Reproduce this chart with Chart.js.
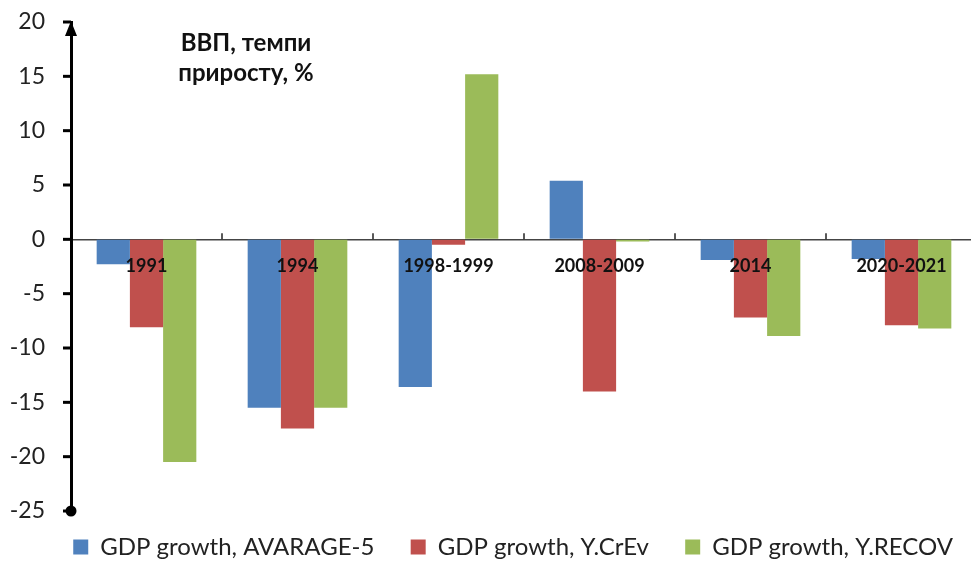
<!DOCTYPE html>
<html>
<head>
<meta charset="utf-8">
<script src="https://cdn.jsdelivr.net/npm/chart.js@4.4.1/dist/chart.umd.min.js"></script>
<style>
  html, body { margin: 0; padding: 0; background: #fff; overflow: hidden; }
  #wrap { width: 977px; height: 563px; }
</style>
</head>
<body>
<div id="wrap"><canvas id="chart"></canvas></div>
<script>
const periods = ['1991', '1994', '1998-1999', '2008-2009', '2014', '2020-2021'];
const avarage5 = [-2.3, -15.5, -13.6, 5.4, -1.9, -1.8];
const yCrEv = [-8.1, -17.4, -0.5, -14.0, -7.2, -7.9];
const yRecov = [-20.5, -15.5, 15.2, -0.2, -8.9, -8.2];
const seriesNames = ['GDP growth, AVARAGE-5', 'GDP growth, Y.CrEv', 'GDP growth, Y.RECOV'];
const noteLines = ['ВВП, темпи', 'приросту, %'];

const FONT = "Lato, 'Open Sans', sans-serif";

// axis arrow, end dot, tick marks and the note
const decor = {
  id: 'decor',
  afterDraw(chart) {
    const ctx = chart.ctx;
    const y = chart.scales.y, x = chart.scales.x;
    const ax = chart.chartArea.left;
    ctx.save();
    // short y tick marks (the long transparent ones only push the labels out)
    ctx.strokeStyle = '#000';
    ctx.lineWidth = 3;
    y.ticks.forEach((t) => {
      const py = y.getPixelForValue(t.value);
      ctx.beginPath();
      ctx.moveTo(ax - 8, py);
      ctx.lineTo(ax, py);
      ctx.stroke();
    });
    ctx.fillStyle = '#000';
    // arrow head
    ctx.beginPath();
    ctx.moveTo(ax, y.top - 1);
    ctx.lineTo(ax - 6, y.top + 14);
    ctx.lineTo(ax + 6, y.top + 14);
    ctx.closePath();
    ctx.fill();
    // end dot
    ctx.beginPath();
    ctx.arc(ax, y.bottom, 5.5, 0, Math.PI * 2);
    ctx.fill();
    // category boundary ticks on the zero line
    const zy = y.getPixelForValue(0);
    ctx.strokeStyle = '#222';
    ctx.lineWidth = 1.5;
    for (let i = 1; i < periods.length; i++) {
      const px = (x.getPixelForValue(i - 1) + x.getPixelForValue(i)) / 2;
      ctx.beginPath();
      ctx.moveTo(px, zy);
      ctx.lineTo(px, zy - 6);
      ctx.stroke();
    }
    // note
    ctx.fillStyle = '#111';
    ctx.font = "bold 24px " + FONT;
    ctx.textAlign = 'center';
    ctx.textBaseline = 'middle';
    ctx.fillText(noteLines[0], 246, 43);
    ctx.fillText(noteLines[1], 246, 73);
    ctx.restore();
  }
};

function renderChart() {
  const chartCanvas = document.getElementById('chart');
  new Chart(chartCanvas, {
    type: 'bar',
    plugins: [decor],
    data: {
      labels: periods,
      datasets: [
        { label: seriesNames[0], data: avarage5, backgroundColor: '#4f81bd' },
        { label: seriesNames[1], data: yCrEv, backgroundColor: '#c0504d' },
        { label: seriesNames[2], data: yRecov, backgroundColor: '#9bbb59' },
      ]
    },
    options: {
      responsive: true,
      maintainAspectRatio: false,
      animation: false,
      datasets: {
        bar: { categoryPercentage: 0.66, barPercentage: 1.0 }
      },
      layout: {
        padding: { top: 22, left: 0, right: 0, bottom: 0 }
      },
      scales: {
        x: {
          position: { y: 0 },
          afterFit: (scale) => { scale.height = 0; },
          grid: { display: false, drawTicks: false },
          border: { display: true, color: '#444', width: 1.5 },
          ticks: {
            z: 1,
            color: '#111',
            padding: 16,
            maxRotation: 0,
            autoSkip: false,
            font: { family: FONT, size: 18, weight: 'bold' },
          }
        },
        y: {
          min: -25,
          max: 20,
          afterFit: (scale) => { scale.width = 71; },
          grid: {
            drawOnChartArea: false,
            drawTicks: true,
            tickLength: 26,
            tickColor: 'rgba(0,0,0,0)',
          },
          border: { display: true, color: '#000', width: 3 },
          ticks: {
            stepSize: 5,
            padding: 0,
            color: '#222',
            font: { family: FONT, size: 23 },
          }
        },
      },
      plugins: {
        legend: {
          position: 'bottom',
          align: 'end',
          maxHeight: 52,
          labels: {
            boxWidth: 15,
            boxHeight: 15,
            padding: 24,
            color: '#222',
            font: { family: FONT, size: 24 },
            generateLabels: (chart) => {
              const items = Chart.defaults.plugins.legend.labels.generateLabels(chart);
              // widen the gap between entries without growing the legend height
              items.forEach((it, i) => { if (i < items.length - 1) it.text += '  '; });
              return items;
            },
          }
        },
        tooltip: { enabled: false },
      },
    },
  });
}

document.addEventListener('DOMContentLoaded', renderChart);
</script>
</body>
</html>
